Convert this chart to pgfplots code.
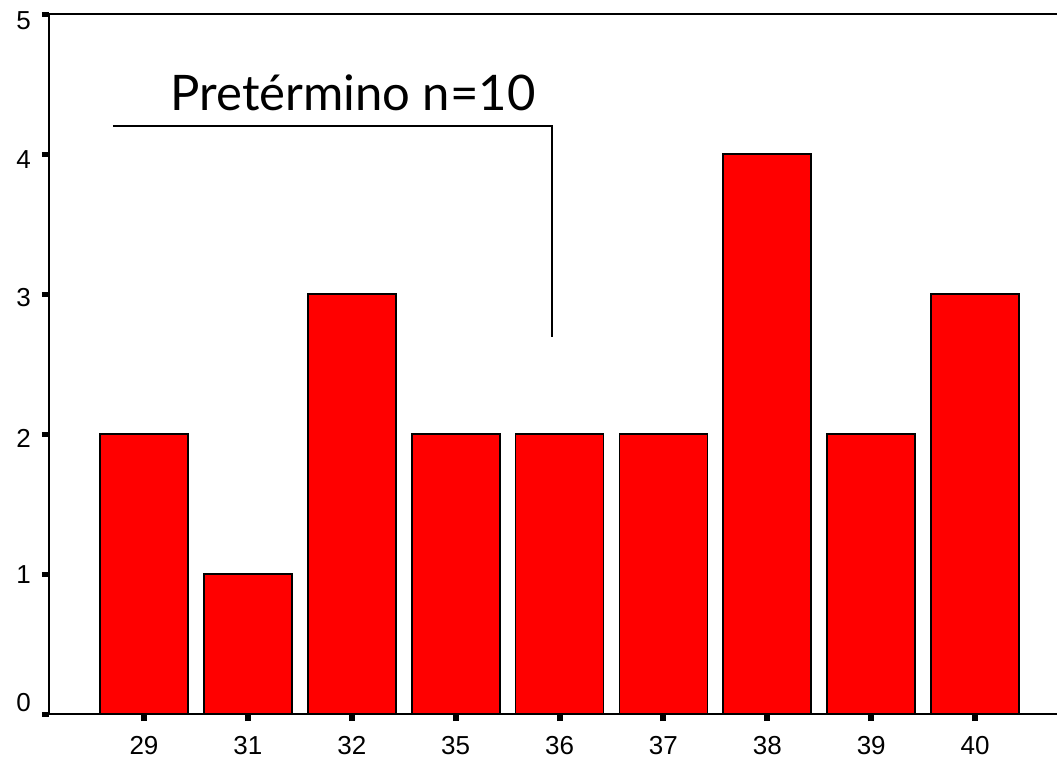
\documentclass[border=0pt]{standalone}
\usepackage{pgfplots}
\pgfplotsset{compat=1.18}
\usepackage{fontspec}
\setmainfont{Liberation Sans}
\newfontfamily\notefont{Lato}

% y tick labels sit a little off their ticks in the original
\newcommand{\yl}[2]{\smash{\raisebox{#1}{#2}}}

\begin{document}
\begin{tikzpicture}
% picture area: 1 px of the reference = 0.5pt
\path[use as bounding box] (-24.5pt,-21.5pt) rectangle (504pt,357pt);
\begin{axis}[
  at={(0pt,0pt)}, anchor=south west,
  scale only axis, width=504pt, height=350pt,
  xmin=-0.914, xmax=8.788, ymin=0, ymax=5,
  axis line style={draw=none},
  xtick={0,...,8},
  xticklabels={29,31,32,35,36,37,38,39,40},
  ytick={0,...,5},
  yticklabels={\yl{1.5pt}{0},\yl{-4.6pt}{1},\yl{-6.6pt}{2},\yl{-6.4pt}{3},\yl{-7pt}{4},\yl{-7.6pt}{5}},
  tick align=outside, tick pos=left,
  major tick length=3.5pt,
  x tick style={black, line width=3pt},
  y tick style={black, line width=2.5pt},
  tick label style={font=\fontsize{13}{15}\selectfont},
  xticklabel style={yshift=-4pt},
  yticklabel style={xshift=-2pt},
  /pgf/number format/assume math mode=true,
  clip=false,
]
\addplot[ybar, bar width=0.847, fill=red, draw=black, line width=0.9pt]
  coordinates {(0,2)(1,1)(2,3)(3,2)(4,2)(5,2)(6,4)(7,2)(8,3)};
% frame: left, top, bottom
\draw[line width=1pt] (rel axis cs:0,1) -- (rel axis cs:0,0) -- (rel axis cs:1,0);
\draw[line width=1pt] (rel axis cs:0,1) -- (rel axis cs:1,1);
% annotation bracket
\draw[line width=1pt] (axis cs:-0.298,4.2) -- (axis cs:3.927,4.2) -- (axis cs:3.927,2.693);
\node[anchor=base, inner sep=0pt, font=\notefont\fontsize{24.5}{28}\selectfont]
  at (axis cs:2.012,4.314) {Pretérmino n=10};
\end{axis}
\end{tikzpicture}
\end{document}
